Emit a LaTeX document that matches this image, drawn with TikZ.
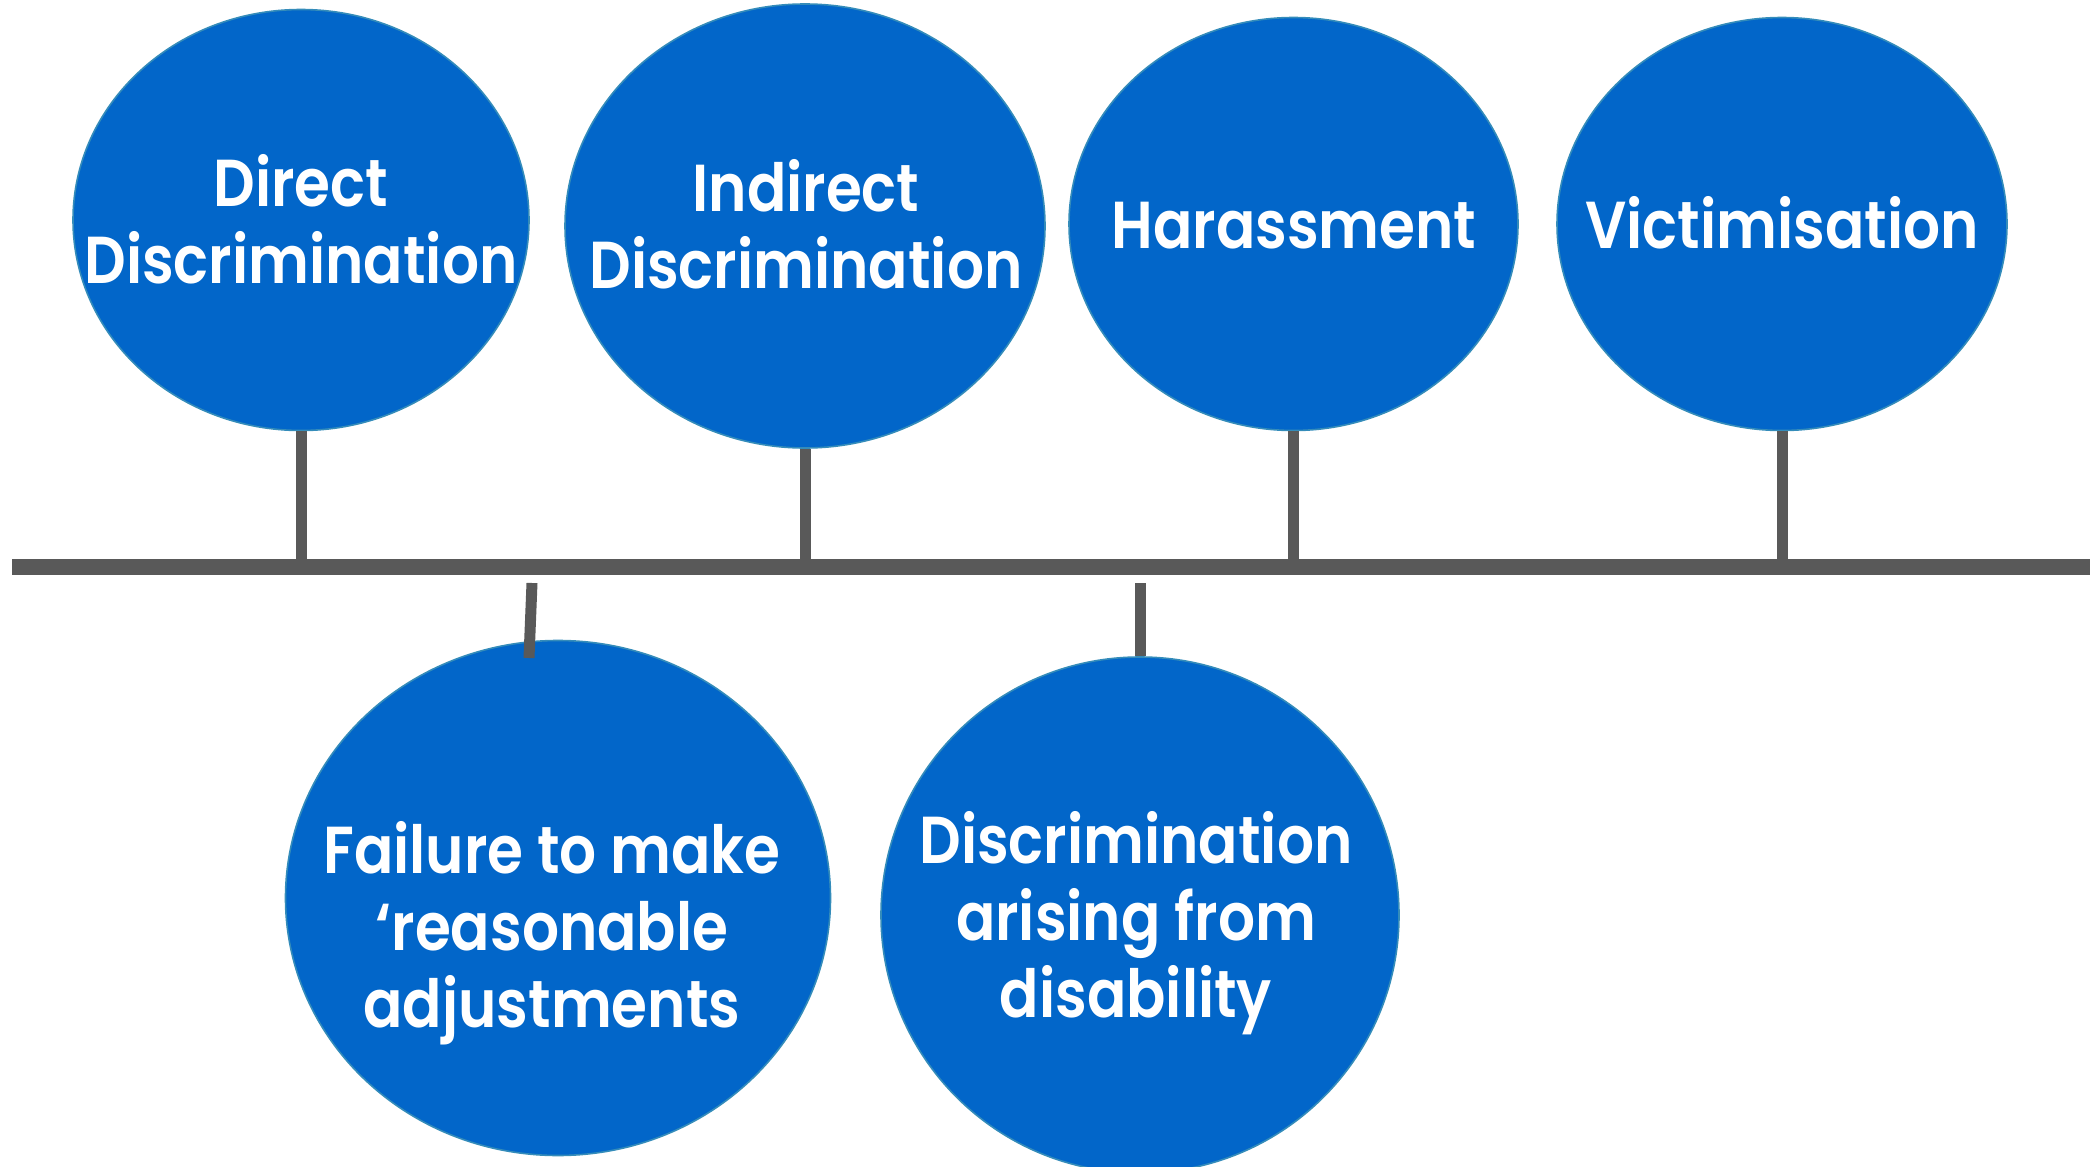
\documentclass[tikz,border=0pt]{standalone}
\usepackage{fontspec}
\setmainfont{Poppins}[BoldFont={Poppins SemiBold}, BoldFeatures={FakeStretch=0.875}]
\usetikzlibrary{shapes.geometric}
\definecolor{bubblefill}{RGB}{2,102,201}
\definecolor{bubbleedge}{RGB}{52,140,186}
\definecolor{axisgray}{RGB}{89,89,89}
\tikzset{
  bubble/.style={ellipse, fill=bubblefill, draw=bubbleedge, line width=0.8pt, inner sep=0pt},
  caption/.style={anchor=base, align=center, text=white, inner sep=0pt,
    font=\bfseries\fontsize{33.2}{38.5}\selectfont},
  axis/.style={draw=axisgray, line width=8pt},
  stem/.style={draw=axisgray, line width=5.5pt},
}
\begin{document}
\begin{tikzpicture}[x=0.5pt, y=-0.5pt]
\useasboundingbox (0,0) rectangle (2090,1167);

% the time line
\coordinate (axisL) at (12,567);
\coordinate (axisR) at (2090,567);

% upper bubbles
\node[bubble, minimum width=228pt, minimum height=210.5pt] (direct) at (301,220) {};
\node[bubble, minimum width=240pt, minimum height=222pt] (indirect) at (805,226) {};
\node[bubble, minimum width=224.5pt, minimum height=206.5pt] (harass) at (1293.5,224) {};
\node[bubble, minimum width=225pt, minimum height=206.5pt] (victim) at (1782,224) {};

% lower bubbles
\node[bubble, minimum width=272.5pt, minimum height=257.5pt] (failure) at (558,898) {};
\node[bubble, minimum width=259pt, minimum height=258pt] (arising) at (1140,915) {};

% stems
\coordinate (s1) at (301,562);
\coordinate (s2) at (805,562);
\coordinate (s3) at (1293.5,562);
\coordinate (s4) at (1782,562);
\coordinate (t5) at (532,583);
\coordinate (b5) at (529,658);
\coordinate (t6) at (1140,583);

\draw[stem] (direct.south) -- (s1);
\draw[stem] (indirect.south) -- (s2);
\draw[stem] (harass.south) -- (s3);
\draw[stem] (victim.south) -- (s4);
\draw[stem] (t5) -- (b5);
\draw[stem] (t6) -- (arising.north);

\draw[axis] (axisL) -- (axisR);

% captions (anchored on the baseline of their last line)
\node[caption] (directT) at (301,283) {Direct\\Discrimination};
\node[caption] (indirectT) at (806,288) {Indirect\\Discrimination};
\node[caption] (harassT) at (1294,248) {Harassment};
\node[caption] (victimT) at (1782,248) {Victimisation};
\node[caption] (failureT) at (552,1027) {Failure to make\\‘reasonable\\adjustments};
\node[caption] (arisingT) at (1136,1017) {Discrimination\\arising from\\disability};
\end{tikzpicture}
\end{document}
